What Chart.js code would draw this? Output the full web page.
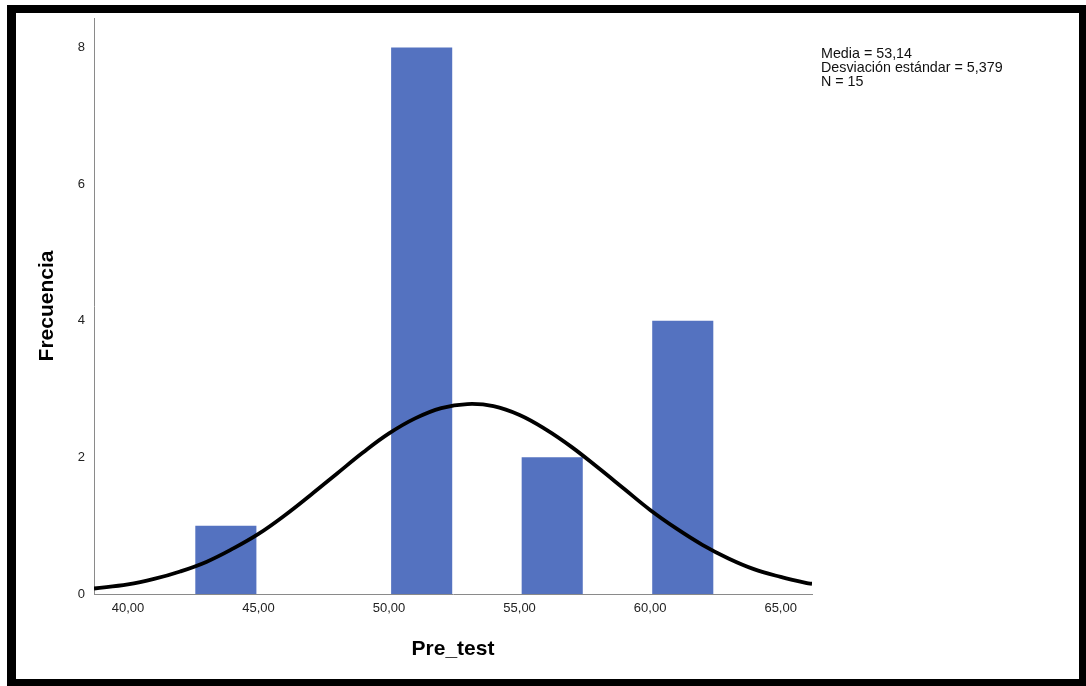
<!DOCTYPE html>
<html>
<head>
<meta charset="utf-8">
<script src="https://cdn.jsdelivr.net/npm/chart.js@4"></script>
<style>
  html, body { margin: 0; padding: 0; background: #fff; }
  #wrap { position: relative; width: 1086px; height: 686px; overflow: hidden; }
  #frame {
    position: absolute; left: 7px; top: 5px; right: 0; bottom: 0;
    border-left: 9px solid #000; border-top: 8px solid #000;
    border-right: 7px solid #000; border-bottom: 7px solid #000;
    pointer-events: none;
  }
  #stats {
    position: absolute; left: 821px; top: 46px;
    font-family: "Liberation Sans", Arial, sans-serif; font-size: 14.3px;
    line-height: 14px; color: #111; white-space: nowrap;
  }
</style>
</head>
<body>
<div id="wrap">
  <canvas id="histChart" width="1086" height="686"></canvas>
  <div id="stats">Media = 53,14<br>Desviación estándar = 5,379<br>N = 15</div>
  <div id="frame"></div>
</div>
<script>
// centros de los intervalos (ancho 2,5) y frecuencias
const binCenters = [43.75, 51.25, 56.25, 61.25];
const frequencies = [1, 8, 2, 4];

// curva normal
const curveX = [38.7, 40, 41, 42, 43, 44, 45, 46, 47, 48, 49, 50, 51, 52, 53,
  54, 55, 56, 57, 58, 59, 60, 61, 62, 63, 64, 65, 66, 66.2];
const curveY = [0.08, 0.14, 0.22, 0.33, 0.47, 0.66, 0.88, 1.15, 1.45, 1.76, 2.07, 2.35, 2.57, 2.72, 2.78,
  2.75, 2.62, 2.41, 2.15, 1.85, 1.54, 1.23, 0.96, 0.72, 0.52, 0.36, 0.25, 0.16, 0.15];

const xTicks = [40, 45, 50, 55, 60, 65];
const yTicks = [0, 2, 4, 6, 8];

const barData = binCenters.map((x, i) => ({ x: x, y: frequencies[i] }));
const curveData = curveX.map((x, i) => ({ x: x, y: curveY[i] }));

const fontFamily = '"Liberation Sans", Arial, sans-serif';

const ctx = document.getElementById('histChart').getContext('2d');
new Chart(ctx, {
  type: 'bar',
  data: {
    datasets: [
      {
        type: 'line',
        data: curveData,
        borderColor: '#000',
        borderWidth: 3.8,
        pointRadius: 0,
        tension: 0.4,
        fill: false,
        order: 0
      },
      {
        type: 'bar',
        data: barData,
        backgroundColor: '#5472c0',
        borderWidth: 0,
        barPercentage: 0.468,
        categoryPercentage: 1,
        order: 1
      }
    ]
  },
  options: {
    responsive: false,
    animation: false,
    layout: { padding: { left: 0, top: 18, right: 274, bottom: 0 } },
    plugins: { legend: { display: false }, tooltip: { enabled: false } },
    scales: {
      x: {
        type: 'linear',
        min: 38.7,
        max: 66.2,
        offset: false,
        grid: { display: false, drawTicks: false, offset: false },
        border: { display: true, color: '#8a8a8a', width: 1 },
        afterBuildTicks: axis => { axis.ticks = xTicks.map(v => ({ value: v })); },
        ticks: {
          padding: 7,
          color: '#222',
          font: { family: fontFamily, size: 13 },
          callback: v => v.toFixed(2).replace('.', ',')
        },
        title: {
          display: true,
          text: 'Pre_test',
          color: '#000',
          font: { family: fontFamily, size: 21, weight: 'bold' },
          padding: { top: 0, bottom: 24 }
        },
        afterFit: axis => { axis.height = 92; }
      },
      y: {
        min: 0,
        max: 8.43,
        grid: { display: false, drawTicks: false },
        border: { display: true, color: '#8a8a8a', width: 1 },
        afterBuildTicks: axis => { axis.ticks = yTicks.map(v => ({ value: v })); },
        ticks: {
          padding: 9,
          color: '#222',
          font: { family: fontFamily, size: 13 }
        },
        title: {
          display: true,
          text: 'Frecuencia',
          color: '#000',
          font: { family: fontFamily, size: 21, weight: 'bold' },
          padding: { top: 35, bottom: 0 }
        },
        afterFit: axis => { axis.width = 94; }
      }
    }
  }
});
</script>
</body>
</html>
